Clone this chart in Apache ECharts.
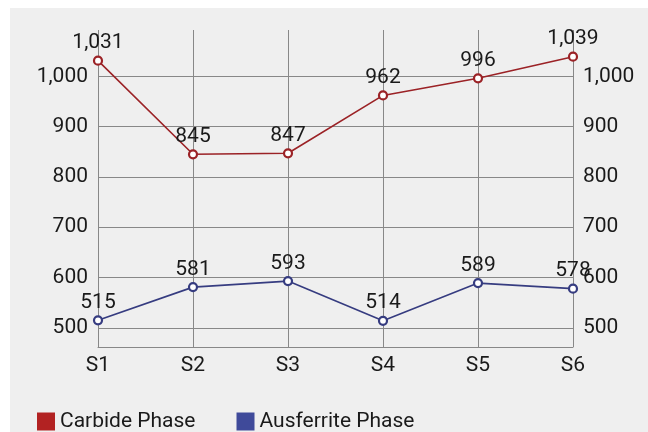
<!DOCTYPE html>
<html>
<head>
<meta charset="utf-8">
<script src="https://cdn.jsdelivr.net/npm/echarts@6/dist/echarts.min.js"></script>
<style>
html,body{margin:0;padding:0;background:#ffffff;}
#c{width:648px;height:432px;}
</style>
</head>
<body>
<div id="c"></div>
<script>
var categories = ['S1','S2','S3','S4','S5','S6'];
var carbideValues = [1031, 845, 847, 962, 996, 1039];
var ausferriteValues = [515, 581, 593, 514, 589, 578];
var seriesNames = ['Carbide Phase', 'Ausferrite Phase'];

var chart = echarts.init(document.getElementById('c'));
var fmt = function (v) { return Number(v).toLocaleString('en-US'); };
var font = 'Roboto';
var textColor = '#1a1a1a';
function yAxis(pos) {
  return {
    type: 'value', position: pos, min: 462, max: 1092, splitNumber: 6,
    axisLine: {show: false}, axisTick: {show: false},
    axisLabel: {show: true, showMinLabel: false, showMaxLabel: false, formatter: fmt,
      color: textColor, fontSize: 21, fontFamily: font, margin: 10},
    splitLine: {show: pos === 'left', showMinLine: true, showMaxLine: false,
      lineStyle: {color: '#888', width: 1}}
  };
}
chart.setOption({
  animation: false,
  graphic: [{type: 'rect', z: -10, silent: true, shape: {x: 10, y: 8, width: 638, height: 424}, style: {fill: '#efefef'}}],
  grid: {left: 98, right: 75, top: 30, bottom: 85, containLabel: false},
  legend: {
    left: 32, top: 406, itemWidth: 18, itemHeight: 18, itemGap: 41, icon: 'rect',
    textStyle: {fontSize: 21, color: textColor, fontFamily: font},
    data: [
      {name: seriesNames[0], itemStyle: {color: '#b22222', borderWidth: 0}},
      {name: seriesNames[1], itemStyle: {color: '#3f4a9a', borderWidth: 0}}
    ]
  },
  xAxis: {
    type: 'category', data: categories, boundaryGap: false,
    axisLine: {show: true, lineStyle: {color: '#888'}}, axisTick: {show: false},
    axisLabel: {color: textColor, fontSize: 21, fontFamily: font, margin: 8},
    splitLine: {show: true, lineStyle: {color: '#888', width: 1}}
  },
  yAxis: [yAxis('left'), yAxis('right')],
  series: [
    {
      name: seriesNames[0], type: 'line', data: carbideValues, yAxisIndex: 0,
      lineStyle: {color: '#9b2226', width: 1.6},
      itemStyle: {color: '#ffffff', borderColor: '#9b2226', borderWidth: 2.2},
      symbol: 'circle', symbolSize: 8,
      label: {show: true, position: 'top', distance: 2, formatter: function (p) { return fmt(p.value); },
        color: textColor, fontSize: 21, fontFamily: font}
    },
    {
      name: seriesNames[1], type: 'line', data: ausferriteValues, yAxisIndex: 0,
      lineStyle: {color: '#363c80', width: 1.6},
      itemStyle: {color: '#ffffff', borderColor: '#363c80', borderWidth: 2.2},
      symbol: 'circle', symbolSize: 8,
      label: {show: true, position: 'top', distance: 2, formatter: function (p) { return fmt(p.value); },
        color: textColor, fontSize: 21, fontFamily: font}
    }
  ]
});
</script>
</body>
</html>
